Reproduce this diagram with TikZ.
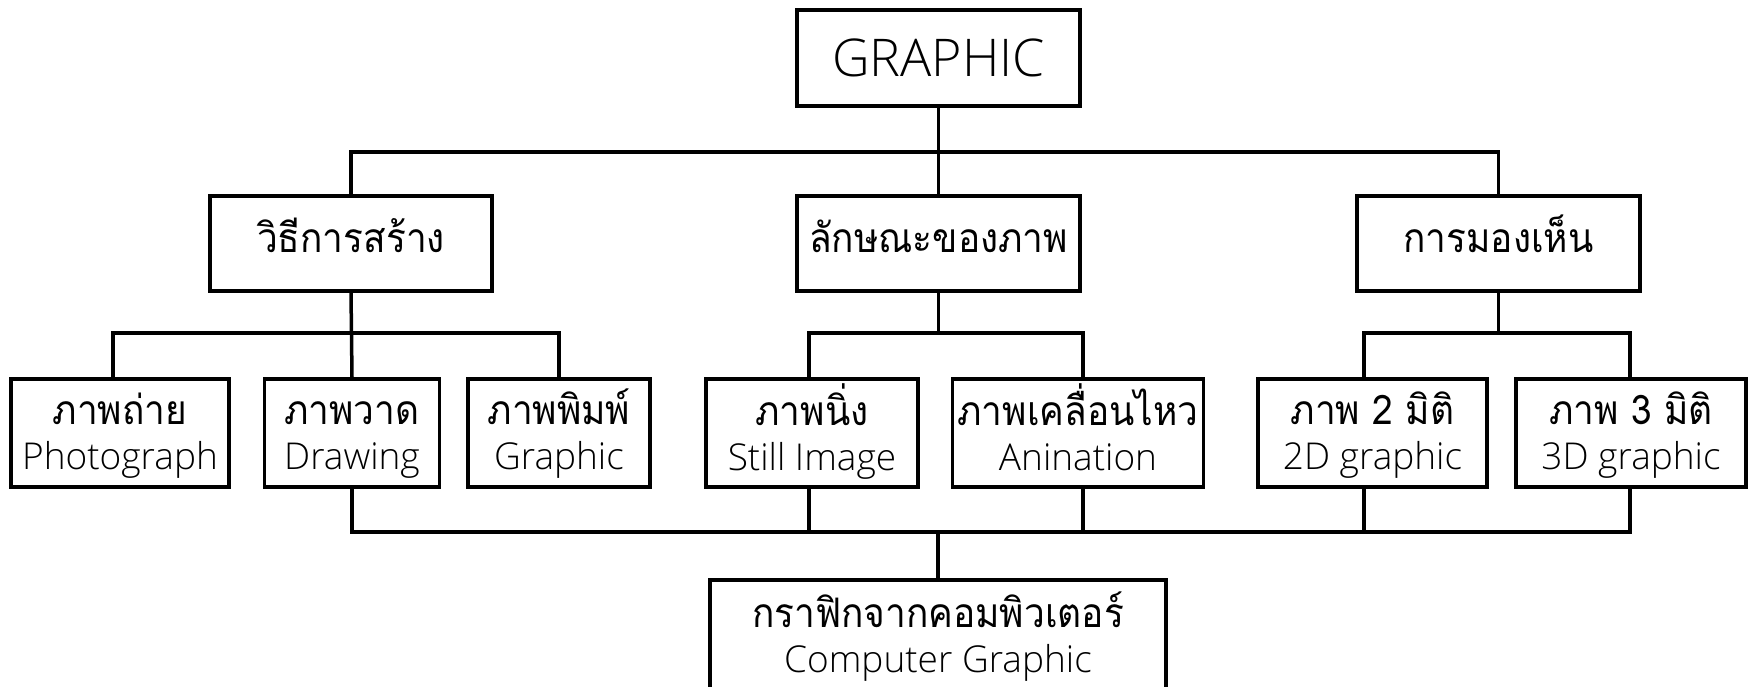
\documentclass[tikz,border=0pt]{standalone}
\usepackage{fontspec}
\usepackage{graphicx}
\setmainfont{Open Sans}[UprightFont={* Light}]
\newfontfamily\thaifont[Script=Thai]{Loma}
\newcommand{\thx}[1]{{\thaifont\scalebox{1}[1.1]{#1}}}
\newcommand{\topstrut}{\rule{0pt}{40pt}}
\newcommand{\botstrut}{\rule[-12pt]{0pt}{12pt}}
\begin{document}
\begin{tikzpicture}[x=1pt,y=-1pt,
  box/.style={draw, line width=3.5pt, inner sep=0pt, align=center,
    font=\fontsize{37}{45}\selectfont},
  wire/.style={line width=3.5pt}]
\clip (0,0) rectangle (1753,687);
\fill[white] (0,0) rectangle (1753,687);
% top
\node[box, minimum width=283pt, minimum height=96pt, font=\fontsize{52}{60}\selectfont] (g) at (938.5,58) {GRAPHIC};
% middle
\node[box, minimum width=282pt, minimum height=95pt] (m1) at (351,243.5) {\rule[-23pt]{0pt}{63pt}\thx{วิธีการสร้าง}};
\node[box, minimum width=283pt, minimum height=95pt] (m2) at (938.5,243.5) {\rule[-23pt]{0pt}{63pt}\thx{ลักษณะของภาพ}};
\node[box, minimum width=283pt, minimum height=95pt] (m3) at (1498.5,243.5) {\rule[-23pt]{0pt}{63pt}\thx{การมองเห็น}};
% leaves
\node[box, minimum width=218pt, minimum height=108pt] (l1) at (120,433) {\topstrut\thx{ภาพถ่าย}\\Photograph\botstrut};
\node[box, minimum width=175pt, minimum height=108pt] (l2) at (352,433) {\topstrut\thx{ภาพวาด}\\Drawing\botstrut};
\node[box, minimum width=182pt, minimum height=108pt] (l3) at (559,433) {\topstrut\thx{ภาพพิมพ์}\\Graphic\botstrut};
\node[box, minimum width=212pt, minimum height=108pt] (l4) at (812,433) {\topstrut\thx{ภาพนิ่ง}\\Still Image\botstrut};
\node[box, minimum width=251pt, minimum height=108pt] (l5) at (1078,433) {\topstrut\thx{ภาพเคลื่อนไหว}\\Anination\botstrut};
\node[box, minimum width=229pt, minimum height=108pt] (l6) at (1372.5,433) {\topstrut\thx{ภาพ 2 มิติ}\\2D graphic\botstrut};
\node[box, minimum width=230pt, minimum height=108pt] (l7) at (1631,433) {\topstrut\thx{ภาพ 3 มิติ}\\3D graphic\botstrut};
% bottom
\node[box, minimum width=456pt, minimum height=111pt] (b) at (938,635.5) {\topstrut\thx{กราฟิกจากคอมพิวเตอร์}\\Computer Graphic\botstrut};
% bus levels
\coordinate (bus1) at (0,152);
\coordinate (bus2) at (0,333);
\coordinate (bus3) at (0,532);
% level 1
\draw[wire] (g.south) -- (g.south |- bus1);
\draw[wire] (m1.north) -- (m1.north |- bus1) -- (m3.north |- bus1) -- (m3.north);
\draw[wire] (m2.north) -- (m2.north |- bus1);
% branch 1
\draw[wire] (m1.south) -- (l2.north);
\draw[wire] ([xshift=-7pt]l1.north) -- ([xshift=-7pt]l1.north |- bus2) -- (l3.north |- bus2) -- (l3.north);
% branch 2
\draw[wire] (m2.south) -- (m2.south |- bus2);
\draw[wire] ([xshift=-3pt]l4.north) -- ([xshift=-3pt]l4.north |- bus2) -- ([xshift=5pt]l5.north |- bus2) -- ([xshift=5pt]l5.north);
% branch 3
\draw[wire] (m3.south) -- (m3.south |- bus2);
\draw[wire] ([xshift=-8.5pt]l6.north) -- ([xshift=-8.5pt]l6.north |- bus2) -- ([xshift=-1pt]l7.north |- bus2) -- ([xshift=-1pt]l7.north);
% bottom bus
\draw[wire] (l2.south) -- (l2.south |- bus3) -- ([xshift=-1pt]l7.south |- bus3) -- ([xshift=-1pt]l7.south);
\draw[wire] ([xshift=-3pt]l4.south) -- ([xshift=-3pt]l4.south |- bus3);
\draw[wire] ([xshift=5pt]l5.south) -- ([xshift=5pt]l5.south |- bus3);
\draw[wire] ([xshift=-8.5pt]l6.south) -- ([xshift=-8.5pt]l6.south |- bus3);
\draw[wire] (b.north |- bus3) -- (b.north);
\end{tikzpicture}
\end{document}
